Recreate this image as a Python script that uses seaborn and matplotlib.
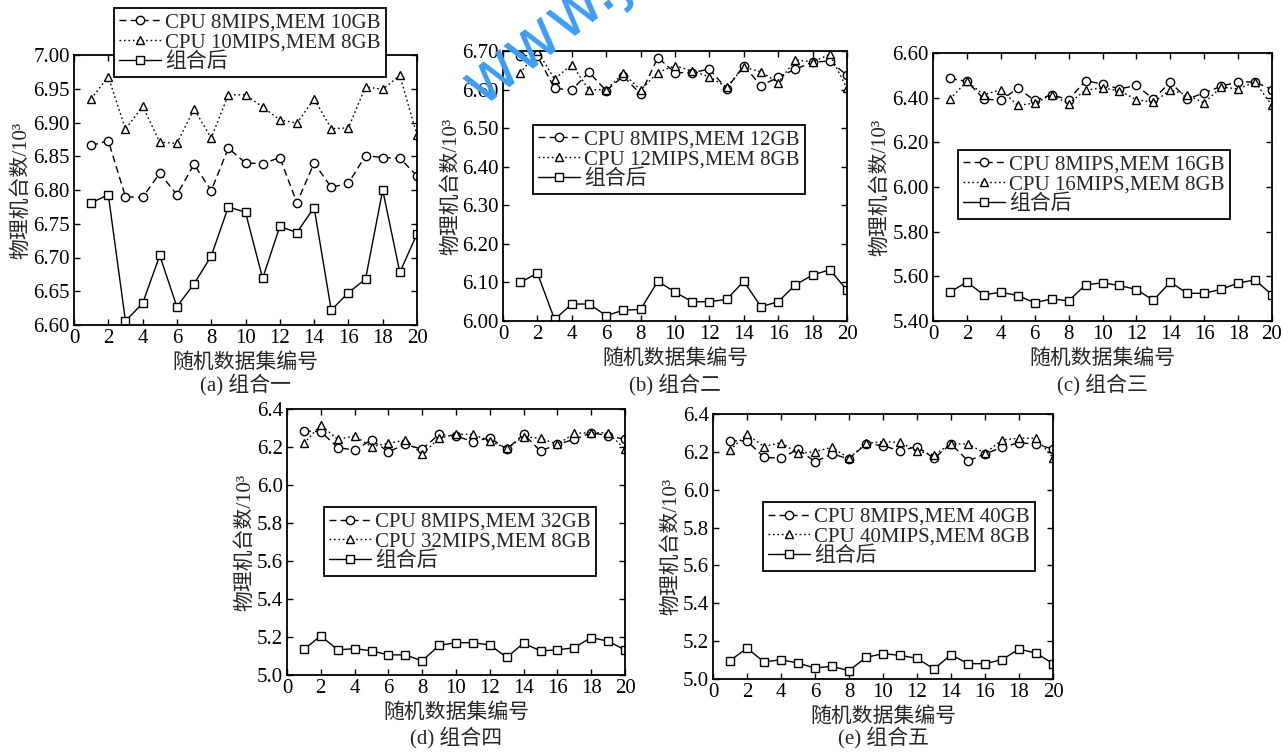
import numpy as np
import pandas as pd
import matplotlib
matplotlib.use('Agg')
import matplotlib.pyplot as plt
import seaborn as sns

sns.set_theme(style='ticks')
plt.rcParams['font.family'] = ['Liberation Serif', 'Noto Sans CJK SC', 'DejaVu Sans']
plt.rcParams['axes.unicode_minus'] = False

# 数据：随机数据集编号 1-20
x = list(range(1, 21))

# (a) 组合一
a_mem = [6.866, 6.873, 6.790, 6.789, 6.825, 6.793, 6.838, 6.799, 6.862, 6.840,
         6.839, 6.848, 6.781, 6.840, 6.804, 6.810, 6.851, 6.848, 6.847, 6.821]
a_cpu = [6.935, 6.968, 6.890, 6.924, 6.871, 6.869, 6.920, 6.877, 6.941, 6.941,
         6.923, 6.904, 6.899, 6.935, 6.891, 6.892, 6.953, 6.949, 6.970, 6.881]
a_mix = [6.781, 6.793, 6.606, 6.632, 6.703, 6.627, 6.661, 6.702, 6.775, 6.767,
         6.669, 6.746, 6.737, 6.774, 6.622, 6.648, 6.668, 6.800, 6.678, 6.735]

# (b) 组合二
b_mem = [6.688, 6.687, 6.603, 6.599, 6.645, 6.597, 6.635, 6.588, 6.683, 6.644,
         6.644, 6.653, 6.602, 6.662, 6.610, 6.632, 6.653, 6.671, 6.674, 6.637]
b_cpu = [6.642, 6.700, 6.627, 6.665, 6.599, 6.600, 6.642, 6.599, 6.644, 6.662,
         6.648, 6.633, 6.606, 6.658, 6.646, 6.618, 6.677, 6.672, 6.691, 6.603]
b_mix = [6.100, 6.124, 6.004, 6.044, 6.044, 6.014, 6.028, 6.030, 6.103, 6.075,
         6.050, 6.050, 6.056, 6.103, 6.037, 6.050, 6.094, 6.119, 6.133, 6.080]

# (c) 组合三
c_mem = [6.486, 6.473, 6.394, 6.388, 6.442, 6.388, 6.413, 6.391, 6.476, 6.461,
         6.439, 6.455, 6.394, 6.469, 6.394, 6.421, 6.451, 6.471, 6.470, 6.436]
c_cpu = [6.394, 6.473, 6.413, 6.436, 6.365, 6.376, 6.413, 6.373, 6.434, 6.443,
         6.431, 6.391, 6.379, 6.434, 6.413, 6.376, 6.448, 6.439, 6.470, 6.365]
c_mix = [5.530, 5.574, 5.517, 5.529, 5.514, 5.482, 5.499, 5.490, 5.562, 5.571,
         5.559, 5.541, 5.493, 5.574, 5.524, 5.524, 5.542, 5.570, 5.584, 5.517]

# (d) 组合四
d_mem = [6.284, 6.281, 6.197, 6.184, 6.237, 6.175, 6.214, 6.188, 6.267, 6.258,
         6.228, 6.249, 6.188, 6.267, 6.179, 6.214, 6.240, 6.275, 6.260, 6.240]
d_cpu = [6.219, 6.316, 6.240, 6.258, 6.202, 6.219, 6.237, 6.163, 6.246, 6.267,
         6.267, 6.232, 6.193, 6.254, 6.246, 6.214, 6.272, 6.275, 6.275, 6.188]
d_mix = [5.135, 5.206, 5.132, 5.139, 5.127, 5.106, 5.106, 5.074, 5.156, 5.170,
         5.170, 5.158, 5.093, 5.167, 5.127, 5.132, 5.144, 5.197, 5.178, 5.132]

# (e) 组合五
e_mem = [6.258, 6.258, 6.171, 6.166, 6.214, 6.148, 6.189, 6.163, 6.242, 6.233,
         6.205, 6.228, 6.166, 6.242, 6.152, 6.189, 6.224, 6.249, 6.240, 6.215]
e_cpu = [6.210, 6.293, 6.228, 6.249, 6.192, 6.201, 6.224, 6.166, 6.245, 6.254,
         6.250, 6.205, 6.184, 6.242, 6.242, 6.192, 6.263, 6.272, 6.272, 6.170]
e_mix = [5.097, 5.163, 5.090, 5.102, 5.084, 5.058, 5.067, 5.044, 5.114, 5.134,
         5.125, 5.109, 5.053, 5.128, 5.081, 5.081, 5.102, 5.158, 5.137, 5.081]

captions = ['(a) 组合一', '(b) 组合二', '(c) 组合三', '(d) 组合四', '(e) 组合五']
legend_labels = [
    ['CPU 8MIPS,MEM 10GB', 'CPU 10MIPS,MEM 8GB', '组合后'],
    ['CPU 8MIPS,MEM 12GB', 'CPU 12MIPS,MEM 8GB', '组合后'],
    ['CPU 8MIPS,MEM 16GB', 'CPU 16MIPS,MEM 8GB', '组合后'],
    ['CPU 8MIPS,MEM 32GB', 'CPU 32MIPS,MEM 8GB', '组合后'],
    ['CPU 8MIPS,MEM 40GB', 'CPU 40MIPS,MEM 8GB', '组合后'],
]
series = [(a_mem, a_cpu, a_mix), (b_mem, b_cpu, b_mix), (c_mem, c_cpu, c_mix),
          (d_mem, d_cpu, d_mix), (e_mem, e_cpu, e_mix)]
y_ranges = [(6.60, 7.00, 0.05, '%.2f'), (6.00, 6.70, 0.10, '%.2f'), (5.40, 6.60, 0.20, '%.2f'),
            (5.0, 6.4, 0.2, '%.1f'), (5.0, 6.4, 0.2, '%.1f')]

# 版面位置（像素 -> 比例）
W, H = 1288, 753
boxes = [(74, 55, 417, 325), (503, 51, 847, 321), (933, 53, 1272, 321),
         (287, 409, 625, 675), (713, 414, 1053, 679)]
legend_pos = [(114, 8), (533, 125), (958, 150), (324, 507), (763, 502)]
caption_y = [385, 385, 385, 738, 738]

fig = plt.figure(figsize=(W / 100, H / 100), dpi=100)

for i in range(5):
    l, t, r, b = boxes[i]
    ax = fig.add_axes([l / W, 1 - b / H, (r - l) / W, (b - t) / H])
    mem, cpu, mix = series[i]
    names = legend_labels[i]
    df = pd.DataFrame({
        'x': x * 3,
        'y': mem + cpu + mix,
        's': [names[0]] * 20 + [names[1]] * 20 + [names[2]] * 20,
    })
    sns.lineplot(data=df, x='x', y='y', hue='s', style='s', ax=ax,
                 palette=['black'] * 3,
                 dashes={names[0]: (5, 3), names[1]: (1.2, 2), names[2]: ''},
                 markers={names[0]: 'o', names[1]: '^', names[2]: 's'},
                 markersize=6, markerfacecolor='white', markeredgecolor='black',
                 markeredgewidth=1.0, linewidth=1.0, legend=False, errorbar=None)

    lo, hi, step, fmt = y_ranges[i]
    ax.set_xlim(0, 20)
    ax.set_ylim(lo, hi)
    ax.set_xticks(range(0, 21, 2))
    yt = np.round(np.arange(lo, hi + step / 2, step), 3)
    ax.set_yticks(yt)
    ax.set_yticklabels([fmt % v for v in yt])
    ax.tick_params(direction='in', top=True, right=True, length=4, width=1,
                   labelsize=15, pad=3, colors='black')
    for sp in ax.spines.values():
        sp.set_visible(True)
        sp.set_linewidth(1.3)
        sp.set_color('black')
    ax.set_xlabel('随机数据集编号', fontsize=15, labelpad=4)
    ax.set_ylabel('物理机台数/10³', fontsize=15, labelpad=1)

    lines = ax.get_lines()[:3]
    lx, ly = legend_pos[i]
    leg = ax.legend(lines, names, loc='upper left',
                    bbox_to_anchor=(lx / W, 1 - ly / H), bbox_transform=fig.transFigure,
                    borderaxespad=0, fancybox=False, edgecolor='black', framealpha=1,
                    fontsize=15, handlelength=2.0, handletextpad=0.2,
                    labelspacing=0.0, borderpad=0.25)
    leg.get_frame().set_linewidth(1.3)
    leg.set_zorder(10)

    fig.text((l + r) / 2 / W, 1 - caption_y[i] / H, captions[i],
             ha='center', va='center', fontsize=15)

# 水印
fig.text(482 / W, 1 - 107 / H, 'www.j', rotation=38, rotation_mode='anchor',
         ha='left', va='baseline', fontsize=47, color='#3d9cf5',
         family=['DejaVu Sans'])

fig.savefig('out.png', dpi=100, facecolor='white')
